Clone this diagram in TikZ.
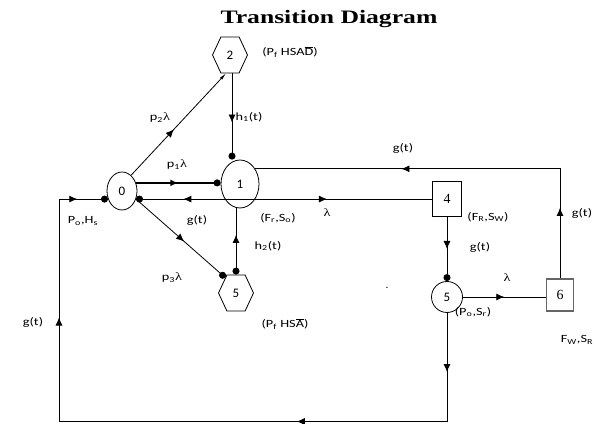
\documentclass[tikz,border=0pt]{standalone}
\usepackage{fontspec}
\usepackage{graphicx}
\setmainfont{Carlito}
\newfontfamily\tnr{Liberation Serif}
\usetikzlibrary{shapes.geometric,shapes.symbols,arrows.meta,decorations.markings}
\newcommand{\lam}{{\tnr λ}}
\newcommand{\hstretch}[1]{\scalebox{1.3}[1]{#1}}
\begin{document}
\begin{tikzpicture}[x=1pt,y=1pt,line width=0.8pt,
    state/.style={draw,ellipse,inner sep=0pt,font=\fontsize{13}{15}\selectfont},
    hexa/.style={draw,signal,signal to=east and west,signal pointer angle=130,minimum width=35pt,minimum height=36pt,inner sep=0pt,font=\fontsize{13}{15}\selectfont},
    box/.style={draw,rectangle,inner sep=0pt,font=\tnr\fontsize{14}{16}\selectfont},
    lbl/.style={font=\fontsize{11}{13}\selectfont,inner sep=1pt},
    dot/.style={-{Circle[length=7pt]}},
    midarrow/.style={postaction={decorate},decoration={markings,mark=at position #1 with {\arrow{Latex[length=8pt,width=7pt]}}}}
  ]
  \useasboundingbox (0,0) rectangle (594,423);
  \node[font=\tnr\bfseries\fontsize{19}{22}\selectfont] (title) at (329,404) {\scalebox{1.35}[1]{Transition Diagram}};
  % states
  \node[state,minimum width=30pt,minimum height=38pt] (n0) at (122,232) {0};
  \node[state,minimum width=38pt,minimum height=48pt] (n1) at (240,239) {1};
  \node[hexa] (n2) at (230,368) {2};
  \node[hexa] (n5h) at (236,130) {5};
  \node[box,minimum width=29pt,minimum height=35pt] (n4) at (447,224) {4};
  \node[state,circle,minimum size=31pt] (n5r) at (447,126) {5};
  \node[box,minimum width=27pt,minimum height=32pt,draw=black!60,line width=1.5pt] (n6) at (560,128) {6};
  % connectors
  \draw[line width=2pt,midarrow=.5,dot] (n0.30) -- (n0.30 -| n1.west);
  \draw[{Circle[length=7pt]}-,postaction={decorate},decoration={markings,
      mark=at position .16 with {\arrowreversed{Latex[length=8pt,width=7pt]}},
      mark=at position .645 with {\arrow{Latex[length=8pt,width=7pt]}}}]
    (n0.-30) -- (n0.-30 -| n4.west);
  \draw[midarrow=.45,-{Latex[length=7pt,width=3pt]}] (n0.60) -- ([xshift=-4pt]n2.south);
  \draw[midarrow=.57,dot] ([xshift=2pt]n2.south) -- ([xshift=2pt]n2.south |- n1.north);
  \draw[midarrow=.54,dot] (n0.-30) -- (n5h.125);
  \draw[{Circle[length=7pt]}-,midarrow=.6] (n5h.north) -- (n5h.north |- n1.south);
  \draw[midarrow=.5,dot] (n4.south) -- (n5r.north);
  \draw[midarrow=.5] (n5r.east) -- (n5r.east -| n6.west);
  \draw[postaction={decorate},decoration={markings,
      mark=at position .17 with {\arrow{Latex[length=8pt,width=7pt]}},
      mark=at position .647 with {\arrow{Latex[length=8pt,width=7pt]}}}]
    (n6.north) |- (n1.45);
  \coordinate (bl) at (59,1.5);
  \draw[dot,postaction={decorate},decoration={markings,
      mark=at position .077 with {\arrow{Latex[length=8pt,width=7pt]}},
      mark=at position .337 with {\arrow{Latex[length=8pt,width=7pt]}},
      mark=at position .782 with {\arrow{Latex[length=8pt,width=7pt]}},
      mark=at position .96 with {\arrow{Latex[length=8pt,width=7pt]}}}]
    (n5r.south) |- (bl) |- (n0.210);
  % labels
  \node[lbl] (l2) at (290,371) {\hstretch{(P\textsubscript{f} HSA$\overline{\hbox{D}}$)}};
  \node[lbl] (lp2) at (160,305) {\hstretch{p\textsubscript{2}\lam}};
  \node[lbl] (lh1) at (249,306) {\hstretch{h\textsubscript{1}(t)}};
  \node[lbl] (lp1) at (177,258) {\hstretch{p\textsubscript{1}\lam}};
  \node[lbl] (lg61) at (403,275) {\hstretch{g(t)}};
  \node[lbl] (l0) at (83,202) {\hstretch{P\textsubscript{o},H\textsubscript{s}}};
  \node[lbl] (lg10) at (197,203) {\hstretch{g(t)}};
  \node[lbl] (l1) at (278,205) {\hstretch{(F\textsubscript{r},S\textsubscript{o})}};
  \node[lbl] (lam14) at (327,210) {\hstretch{\lam}};
  \node[lbl] (l4) at (488,206) {\hstretch{(F\textsubscript{R},S\textsubscript{W})}};
  \node[lbl] (lg6) at (582,210) {\hstretch{g(t)}};
  \node[lbl] (lh2) at (268,177) {\hstretch{h\textsubscript{2}(t)}};
  \node[lbl] (lg45) at (480,176) {\hstretch{g(t)}};
  \node[lbl] (lam56) at (507,145) {\hstretch{\lam}};
  \node[lbl] (lp3) at (172,145) {\hstretch{p\textsubscript{3}\lam}};
  \node[lbl] (l5r) at (473,111) {\hstretch{(P\textsubscript{o},S\textsubscript{r})}};
  \node[lbl] (l6) at (577,83) {\hstretch{F\textsubscript{W},S\textsubscript{R}}};
  \node[lbl] (l5h) at (285,99) {\hstretch{(P\textsubscript{f} HS$\overline{\hbox{A}}$)}};
  \node[lbl] (lg0) at (33,101) {\hstretch{g(t)}};
  \node[lbl] (speck) at (387,135) {.};
\end{tikzpicture}
\end{document}
